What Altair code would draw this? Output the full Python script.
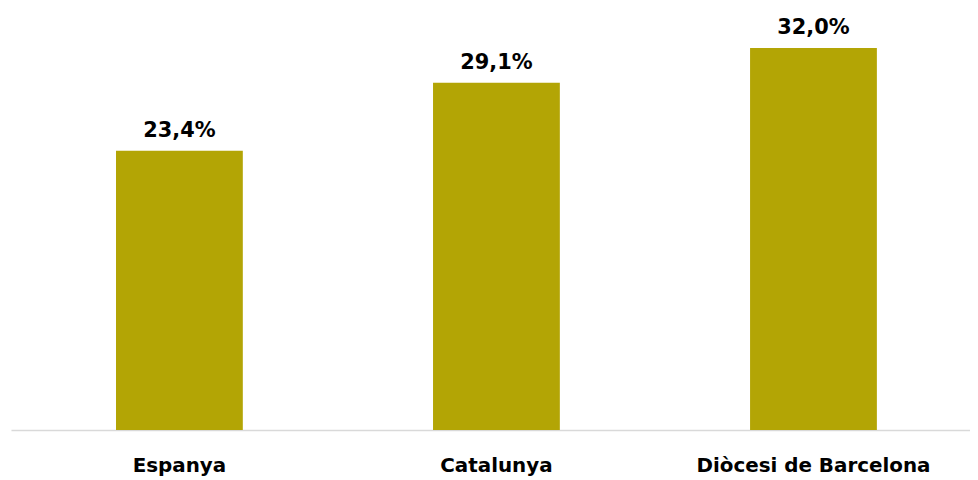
import altair as alt
import pandas as pd

categories = ["Espanya", "Catalunya", "Diòcesi de Barcelona"]
values = [23.4, 29.1, 32.0]
labels = ["23,4%", "29,1%", "32,0%"]

df = pd.DataFrame({"cat": categories, "val": values, "lab": labels})

x = alt.X("cat:N", sort=categories,
          scale=alt.Scale(paddingInner=0.6, paddingOuter=0.3125, align=0.53),
          axis=alt.Axis(title=None, labelAngle=0, ticks=False, domainColor="#d9d9d9",
                        domainWidth=1.5, labelFont="DejaVu Sans", labelFontWeight="bold",
                        labelFontSize=20, labelColor="#000000", labelPadding=26,
                        labelLimit=400, labelBaseline="top"))
y = alt.Y("val:Q", scale=alt.Scale(domain=[0, 35], nice=False, zero=True), axis=None)

bars = alt.Chart(df).mark_bar(color="#B3A505").encode(x=x, y=y)
text = alt.Chart(df).mark_text(dy=-20, font="DejaVu Sans", fontWeight="bold", fontSize=21,
                               color="#000000").encode(x=x, y=y, text="lab:N")

chart = (bars + text).properties(
    width=964, height=420,
    autosize=alt.AutoSizeParams(type="none"),
    padding={"left": 3, "top": 3, "right": 0, "bottom": 50},
).configure_view(stroke=None)

chart.save("out.html", embed_options={"renderer": "svg", "actions": False})
